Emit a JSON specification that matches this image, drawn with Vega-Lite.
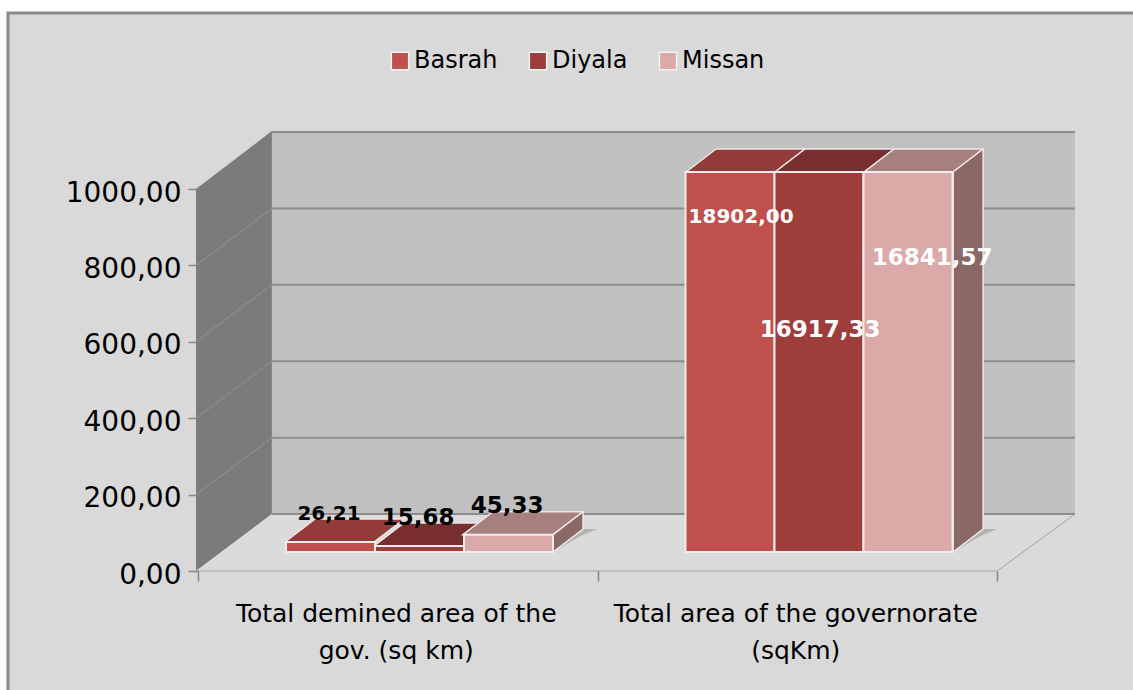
{
"$schema":"https://vega.github.io/schema/vega-lite/v6.json",
"width":877,"height":440,
"autosize":{"type":"none"},
"padding":{"left":198,"top":131,"right":58,"bottom":119},
"background":"#ffffff",
"config":{"view":{"stroke":null},"font":"DejaVu Sans","locale":{"number":{"decimal":",","thousands":".","grouping":[3],"currency":["",""]}}},
"datasets":{
"bars":[
{"category":"Total demined area of the gov. (sq km)","series":"Basrah","value":26.21,"shown":26.21,"labelAt":0.3279,"labelLevel":149.2},
{"category":"Total demined area of the gov. (sq km)","series":"Diyala","value":15.68,"shown":15.68,"labelAt":0.5507,"labelLevel":138.7},
{"category":"Total demined area of the gov. (sq km)","series":"Missan","value":45.33,"shown":45.33,"labelAt":0.7735,"labelLevel":170.2},
{"category":"Total area of the governorate (sqKm)","series":"Basrah","value":18902.00,"shown":995,"labelAt":1.3592,"labelLevel":926.7},
{"category":"Total area of the governorate (sqKm)","series":"Diyala","value":16917.33,"shown":995,"labelAt":1.5569,"labelLevel":630.9},
{"category":"Total area of the governorate (sqKm)","series":"Missan","value":16841.57,"shown":995,"labelAt":1.8373,"labelLevel":819.4}
],
"walls":[
{"part":"left wall","u":-0.005,"top":1000,"bottom":0},
{"part":"left wall","u":0.185,"top":1152,"bottom":149.2},
{"part":"back wall","u":0.185,"top":1152,"bottom":149.2},
{"part":"back wall","u":2.195,"top":1152,"bottom":149.2},
{"part":"floor","u":-0.005,"top":0,"bottom":0},
{"part":"floor","u":0.185,"top":149.2,"bottom":0},
{"part":"floor","u":2.0,"top":149.2,"bottom":0},
{"part":"floor","u":2.195,"top":149.2,"bottom":149.2}
],
"lines":[
{"kind":"back","u":0.185,"u2":2.195,"a":149.2,"b":149.2},
{"kind":"back","u":0.185,"u2":2.195,"a":349.2,"b":349.2},
{"kind":"back","u":0.185,"u2":2.195,"a":549.2,"b":549.2},
{"kind":"back","u":0.185,"u2":2.195,"a":749.2,"b":749.2},
{"kind":"back","u":0.185,"u2":2.195,"a":949.2,"b":949.2},
{"kind":"back","u":0.185,"u2":2.195,"a":1149.2,"b":1149.2},
{"kind":"side","u":-0.005,"u2":0.185,"a":200,"b":349.2},
{"kind":"side","u":-0.005,"u2":0.185,"a":400,"b":549.2},
{"kind":"side","u":-0.005,"u2":0.185,"a":600,"b":749.2},
{"kind":"side","u":-0.005,"u2":0.185,"a":800,"b":949.2},
{"kind":"floor","u":-0.005,"u2":2.0,"a":0,"b":0},
{"kind":"floor","u":2.0,"u2":2.195,"a":0,"b":149.2}
],
"faces":[
{"face":"shadow small","u":0.8886,"top":49.7,"bottom":49.7},
{"face":"shadow small","u":0.9637,"top":109.9,"bottom":95},
{"face":"shadow small","u":1.0,"top":109.9,"bottom":109.9},
{"face":"shadow large","u":1.8899,"top":49.7,"bottom":49.7},
{"face":"shadow large","u":1.965,"top":109.9,"bottom":95},
{"face":"shadow large","u":2.0,"top":109.9,"bottom":109.9},
{"face":"top Basrah 1","tone":"Basrah top","u":0.2178,"top":75.9,"bottom":75.9},
{"face":"top Basrah 1","tone":"Basrah top","u":0.2929,"top":136.1,"bottom":75.9},
{"face":"top Basrah 1","tone":"Basrah top","u":0.4406,"top":136.1,"bottom":75.9},
{"face":"top Basrah 1","tone":"Basrah top","u":0.5157,"top":136.1,"bottom":136.1},
{"face":"top Diyala 1","tone":"Diyala top","u":0.4406,"top":65.4,"bottom":65.4},
{"face":"top Diyala 1","tone":"Diyala top","u":0.5157,"top":125.6,"bottom":65.4},
{"face":"top Diyala 1","tone":"Diyala top","u":0.6633,"top":125.6,"bottom":65.4},
{"face":"top Diyala 1","tone":"Diyala top","u":0.7384,"top":125.6,"bottom":125.6},
{"face":"top Missan 1","tone":"Missan top","u":0.6633,"top":95,"bottom":95},
{"face":"top Missan 1","tone":"Missan top","u":0.7384,"top":155.2,"bottom":95},
{"face":"top Missan 1","tone":"Missan top","u":0.8886,"top":155.2,"bottom":95},
{"face":"top Missan 1","tone":"Missan top","u":0.9637,"top":155.2,"bottom":155.2},
{"face":"side Missan 1","tone":"Missan side","u":0.8886,"top":95,"bottom":49.7},
{"face":"side Missan 1","tone":"Missan side","u":0.9637,"top":155.2,"bottom":109.9},
{"face":"top Basrah 2","tone":"Basrah top","u":1.2215,"top":1044.7,"bottom":1044.7},
{"face":"top Basrah 2","tone":"Basrah top","u":1.2966,"top":1104.9,"bottom":1044.7},
{"face":"top Basrah 2","tone":"Basrah top","u":1.4443,"top":1104.9,"bottom":1044.7},
{"face":"top Basrah 2","tone":"Basrah top","u":1.5194,"top":1104.9,"bottom":1104.9},
{"face":"top Diyala 2","tone":"Diyala top","u":1.4443,"top":1044.7,"bottom":1044.7},
{"face":"top Diyala 2","tone":"Diyala top","u":1.5194,"top":1104.9,"bottom":1044.7},
{"face":"top Diyala 2","tone":"Diyala top","u":1.6671,"top":1104.9,"bottom":1044.7},
{"face":"top Diyala 2","tone":"Diyala top","u":1.7422,"top":1104.9,"bottom":1104.9},
{"face":"top Missan 2","tone":"Missan top","u":1.6671,"top":1044.7,"bottom":1044.7},
{"face":"top Missan 2","tone":"Missan top","u":1.7422,"top":1104.9,"bottom":1044.7},
{"face":"top Missan 2","tone":"Missan top","u":1.8899,"top":1104.9,"bottom":1044.7},
{"face":"top Missan 2","tone":"Missan top","u":1.965,"top":1104.9,"bottom":1104.9},
{"face":"side Missan 2","tone":"Missan side","u":1.8899,"top":1044.7,"bottom":49.7},
{"face":"side Missan 2","tone":"Missan side","u":1.965,"top":1104.9,"bottom":109.9}
],
"frame":[{"u":-0.4756,"u2":2.5,"top":1461,"bottom":-400}]
},
"resolve":{"scale":{"x":"independent","color":"independent"}},
"layer":[
{"data":{"name":"frame"},"mark":{"type":"rect","fill":"#d9d9d9","stroke":"#8a8a8a","strokeWidth":3,"clip":false},
 "encoding":{"x":{"field":"u","type":"quantitative","axis":null,"scale":{"domain":[0,2.195],"range":[0,877]}},"x2":{"field":"u2"},
 "y":{"field":"top","type":"quantitative","scale":{"domain":[0,1152],"range":[440,0],"nice":false},
   "axis":{"values":[0,200,400,600,800,1000],"format":".2f","title":null,"domain":false,"grid":false,"tickSize":10,"tickColor":"#868686","tickWidth":1.5,"labelFontSize":28,"labelColor":"#000000","labelPadding":7,"labelOffset":4,"zindex":1}},
 "y2":{"field":"bottom"}}},
{"data":{"name":"walls"},"mark":{"type":"area","clip":false},
 "encoding":{"x":{"field":"u","type":"quantitative","axis":null,"scale":{"domain":[0,2.195],"range":[0,877]}},
 "y":{"field":"top","type":"quantitative","scale":{"domain":[0,1152],"range":[440,0],"nice":false}},"y2":{"field":"bottom"},"detail":{"field":"part"},
 "color":{"field":"part","type":"nominal","legend":null,"scale":{"domain":["left wall","back wall","floor"],"range":["#7b7b7b","#c0c0c0","#dbdbdb"]}}}},
{"data":{"name":"lines"},"mark":{"type":"rule","clip":false},
 "encoding":{"x":{"field":"u","type":"quantitative","axis":null,"scale":{"domain":[0,2.195],"range":[0,877]}},"x2":{"field":"u2"},
 "y":{"field":"a","type":"quantitative","scale":{"domain":[0,1152],"range":[440,0],"nice":false}},"y2":{"field":"b"},
 "color":{"field":"kind","type":"nominal","legend":null,"scale":{"domain":["back","side","floor"],"range":["#8c8c8c","#8a8a8a","#a3a3a3"]}},
 "strokeWidth":{"field":"kind","type":"nominal","legend":null,"scale":{"domain":["back","side","floor"],"range":[2,1,2.5]}}}},
{"data":{"name":"faces"},"transform":[{"filter":"indexof(datum.face,'shadow')==0"}],"mark":{"type":"area","color":"#a8a8a8","opacity":0.8,"clip":false},
 "encoding":{"x":{"field":"u","type":"quantitative","axis":null,"scale":{"domain":[0,2.195],"range":[0,877]}},
 "y":{"field":"top","type":"quantitative","scale":{"domain":[0,1152],"range":[440,0],"nice":false}},"y2":{"field":"bottom"},"detail":{"field":"face"}}},
{"data":{"name":"faces"},"transform":[{"filter":"indexof(datum.face,'shadow')!=0"}],"mark":{"type":"area","stroke":"#efe6e6","strokeWidth":1.5,"clip":false},
 "encoding":{"x":{"field":"u","type":"quantitative","axis":null,"scale":{"domain":[0,2.195],"range":[0,877]}},
 "y":{"field":"top","type":"quantitative","scale":{"domain":[0,1152],"range":[440,0],"nice":false}},"y2":{"field":"bottom"},"detail":{"field":"face"},
 "color":{"field":"tone","type":"nominal","legend":null,"scale":{"domain":["Basrah top","Diyala top","Missan top","Missan side"],"range":["#933b38","#772e2c","#a6807e","#8a6866"]}}}},
{"data":{"name":"bars"},"mark":{"type":"bar","yOffset":-19,"stroke":"#f2ecec","strokeWidth":2,"clip":false},
 "encoding":{
 "x":{"field":"category","type":"nominal","sort":null,"title":null,
   "scale":{"range":[0,799],"paddingInner":0,"paddingOuter":0},
   "axis":{"orient":"bottom","labelAngle":0,"domain":false,"tickBand":"extent","tickSize":10,"tickColor":"#868686","tickWidth":1.5,"labelFontSize":25,"labelColor":"#000000","labelPadding":20,"labelLineHeight":37,"labelLimit":500,"labelOffset":-2,"zindex":1,
   "labelExpr":"datum.value=='Total demined area of the gov. (sq km)'?['Total demined area of the','gov. (sq km)']:datum.value=='Total area of the governorate (sqKm)'?['Total area of the governorate','(sqKm)']:''"}},
 "xOffset":{"field":"series","type":"nominal","scale":{"domain":["Basrah","Diyala","Missan"],"range":[88,355],"paddingInner":0,"paddingOuter":0}},
 "y":{"field":"shown","type":"quantitative","scale":{"domain":[0,1152],"range":[440,0],"nice":false}},
 "color":{"field":"series","type":"nominal","title":null,
   "scale":{"domain":["Basrah","Diyala","Missan"],"range":["#C0504D","#9E3E3B","#DBA9A8"]},
   "legend":{"orient":"none","direction":"horizontal","legendX":190,"legendY":-82,"columns":3,"columnPadding":28,"symbolType":"square","symbolSize":300,"symbolStrokeColor":"#f4f4f4","symbolStrokeWidth":1.5,"labelFontSize":24,"labelColor":"#000000","labelOffset":2}}}},
{"data":{"name":"bars"},"mark":{"type":"text","fontWeight":"bold","baseline":"middle","align":"center","clip":false},
 "encoding":{"x":{"field":"labelAt","type":"quantitative","axis":null,"scale":{"domain":[0,2.195],"range":[0,877]}},
 "y":{"field":"labelLevel","type":"quantitative","scale":{"domain":[0,1152],"range":[440,0],"nice":false}},
 "text":{"field":"value","type":"quantitative","format":".2f"},
 "size":{"condition":{"test":"datum.series=='Basrah'","value":20},"value":23},
 "color":{"condition":{"test":"datum.value>1000","value":"#ffffff"},"value":"#000000"}}}
]
}
